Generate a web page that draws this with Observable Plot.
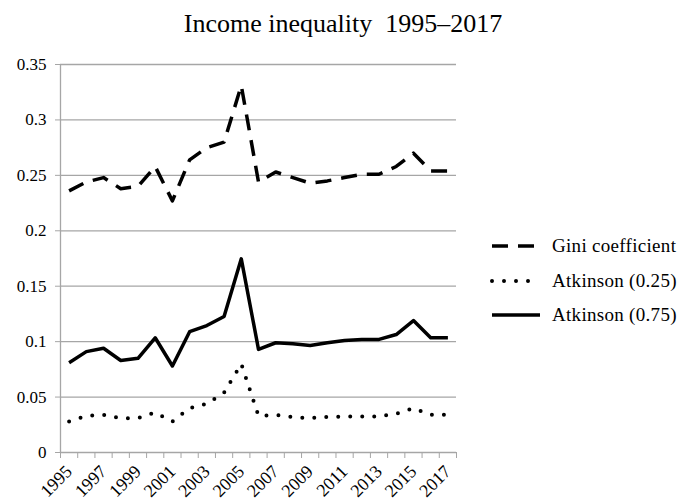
<!DOCTYPE html>
<html>
<head>
<meta charset="utf-8">
<script src="https://cdn.jsdelivr.net/npm/d3@7"></script>
<script src="https://cdn.jsdelivr.net/npm/@observablehq/plot@0.6"></script>
<style>
  html, body { margin: 0; padding: 0; background: #fff; font-family: "Times New Roman", "Liberation Serif", serif; }
  #wrap { position: relative; width: 686px; height: 502px; font-family: "Times New Roman", "Liberation Serif", serif; }
  #title { position: absolute; left: 0; top: 9px; width: 686px; text-align: center; font-family: "Times New Roman", "Liberation Serif", serif; font-size: 26px; color: #000; white-space: pre; }
  #legend { position: absolute; left: 490px; top: 229px; font-family: "Times New Roman", "Liberation Serif", serif; font-size: 19px; color: #000; }
  .row { display: flex; align-items: center; height: 34.5px; }
  .row span { font-family: "Times New Roman", "Liberation Serif", serif; letter-spacing: 0.3px; }
  .row svg { margin-right: 10px; }
  svg text { font-family: "Times New Roman", "Liberation Serif", serif; }
</style>
</head>
<body>
<div id="wrap">
  <div id="chart"></div>
  <div id="title">Income inequality  1995–2017</div>
  <div id="legend"></div>
</div>
<script>
const years = d3.range(1995, 2018);
const gini = [0.236, 0.244, 0.248, 0.238, 0.240, 0.258, 0.227, 0.264, 0.275, 0.280, 0.331, 0.244, 0.253, 0.248, 0.243, 0.245, 0.248, 0.251, 0.251, 0.258, 0.270, 0.254, 0.254];
const atk25 = [0.028, 0.033, 0.034, 0.031, 0.031, 0.036, 0.028, 0.040, 0.044, 0.054, 0.080, 0.033, 0.034, 0.032, 0.031, 0.032, 0.0325, 0.0325, 0.0325, 0.035, 0.040, 0.034, 0.034];
const atk75 = [0.081, 0.091, 0.094, 0.083, 0.085, 0.1035, 0.078, 0.109, 0.1145, 0.1227, 0.1747, 0.093, 0.099, 0.098, 0.0965, 0.099, 0.101, 0.102, 0.102, 0.1064, 0.119, 0.1035, 0.1035];
const yTicks = [0, 0.05, 0.1, 0.15, 0.2, 0.25, 0.3, 0.35];
const xLabels = years.filter(y => y % 2 === 1);
const seriesNames = ["Gini coefficient", "Atkinson (0.25)", "Atkinson (0.75)"];

const rows = (vals) => years.map((year, i) => ({year, value: vals[i]}));
const styles = [
  {strokeDasharray: "16,10", strokeLinecap: "butt"},
  {strokeDasharray: "0,12", strokeLinecap: "round", strokeWidth: 4},
  {strokeLinecap: "butt"}
];
const xDomain = [years[0] - 0.5, years[years.length - 1] + 0.5];
const boundaries = d3.range(xDomain[0], xDomain[1] + 0.01, 1);
const serif = "Times New Roman, Liberation Serif, serif";

const chart = Plot.plot({
  width: 686,
  height: 502,
  marginLeft: 60,
  marginRight: 230,
  marginTop: 64,
  marginBottom: 50,
  style: {fontFamily: "'Times New Roman', 'Liberation Serif', serif", fontSize: "17px", color: "#000", background: "#fff", overflow: "visible"},
  x: {domain: xDomain},
  y: {domain: [0, 0.35]},
  marks: [
    Plot.gridY(yTicks, {stroke: "#a6a6a6", strokeOpacity: 1, strokeWidth: 1.3}),
    Plot.ruleX([xDomain[0]], {stroke: "#a6a6a6", strokeWidth: 1.3}),
    Plot.axisY({ticks: yTicks, tickSize: 5, tickPadding: 9, stroke: "#a6a6a6", fill: "#000", label: null,
      fontSize: 17, fontFamily: serif, tickFormat: d => String(+d.toFixed(2))}),
    Plot.axisX({ticks: boundaries, tickSize: 6, stroke: "#a6a6a6", tickFormat: () => "", label: null}),
    Plot.axisX({ticks: xLabels, tickSize: 0, tickPadding: 16, tickRotate: -45, fill: "#000", label: null,
      fontSize: 18, fontFamily: serif, tickFormat: d => String(d)}),
    Plot.line(rows(gini), {x: "year", y: "value", stroke: "#000", strokeWidth: 3.5, ...styles[0]}),
    Plot.line(rows(atk25), {x: "year", y: "value", stroke: "#000", strokeWidth: 4, ...styles[1]}),
    Plot.line(rows(atk75), {x: "year", y: "value", stroke: "#000", strokeWidth: 3.5, ...styles[2]})
  ]
});
document.getElementById("chart").appendChild(chart);

const legend = d3.select("#legend");
seriesNames.forEach((name, i) => {
  const row = legend.append("div").attr("class", "row");
  const svg = row.append("svg").attr("width", 52).attr("height", 10);
  const s = styles[i];
  svg.append("line").attr("x1", 2).attr("x2", 50).attr("y1", 5).attr("y2", 5)
    .attr("stroke", "#000").attr("stroke-width", s.strokeWidth || 3.5)
    .attr("stroke-dasharray", s.strokeDasharray || null)
    .attr("stroke-linecap", s.strokeLinecap);
  row.append("span").text(name);
});
</script>
</body>
</html>
